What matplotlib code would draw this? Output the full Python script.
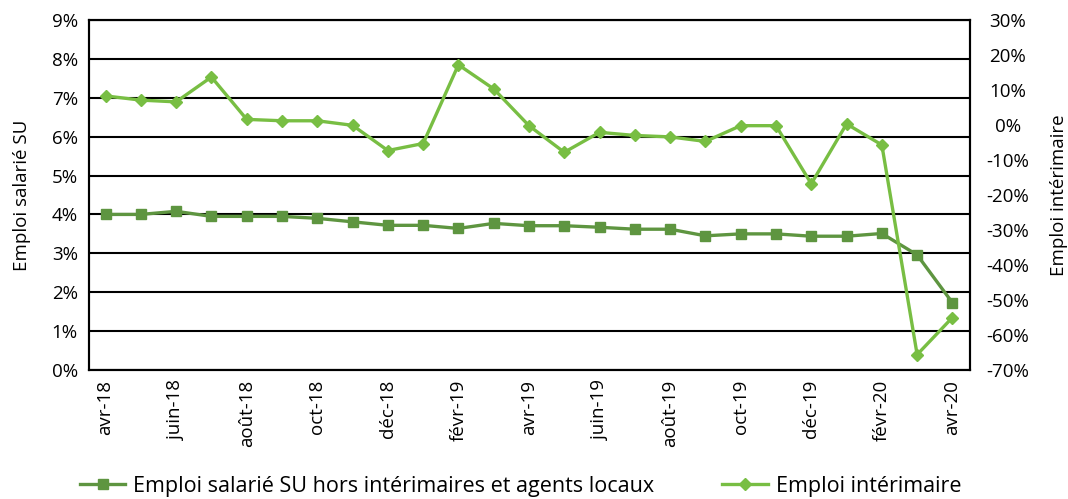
import matplotlib.pyplot as plt
import matplotlib.ticker as mticker

plt.rcParams.update({
    'font.family': ['Open Sans', 'DejaVu Sans'],
    'font.size': 13.5,
})

# Months (avr-18 .. avr-20)
months = ['avr-18', 'mai-18', 'juin-18', 'juil-18', 'août-18', 'sept-18', 'oct-18',
          'nov-18', 'déc-18', 'janv-19', 'févr-19', 'mars-19', 'avr-19', 'mai-19',
          'juin-19', 'juil-19', 'août-19', 'sept-19', 'oct-19', 'nov-19', 'déc-19',
          'janv-20', 'févr-20', 'mars-20', 'avr-20']

# Emploi salarié SU hors intérimaires et agents locaux (left axis, %)
emploi_su = [4.0, 4.0, 4.08, 3.95, 3.95, 3.95, 3.9, 3.81, 3.72, 3.72, 3.64, 3.77,
             3.71, 3.71, 3.67, 3.62, 3.62, 3.45, 3.5, 3.5, 3.44, 3.44, 3.51, 2.96, 1.73]

# Emploi intérimaire (right axis, %)
emploi_int = [8.3, 7.1, 6.6, 13.7, 1.6, 1.2, 1.2, -0.1, -7.3, -5.3, 17.2, 10.3,
              -0.2, -7.8, -2.1, -3.0, -3.4, -4.7, -0.2, -0.2, -16.8, 0.3, -5.7, -65.6, -55.0]

dark_green = '#5E9540'
light_green = '#78BE43'

fig = plt.figure(figsize=(10.68, 4.99), dpi=100)
ax = fig.add_axes([0.0833, 0.2585, 0.825, 0.7015])
ax2 = ax.twinx()

x = list(range(len(months)))

l1, = ax.plot(x, emploi_su, color=dark_green, lw=2.4, marker='s', ms=7,
              label='Emploi salarié SU hors intérimaires et agents locaux')
l2, = ax2.plot(x, emploi_int, color=light_green, lw=2.4, marker='D', ms=6.5,
               label='Emploi intérimaire')

ax.set_ylim(0, 9)
ax.set_yticks(range(0, 10))
ax.yaxis.set_major_formatter(mticker.FuncFormatter(lambda v, p: f'{v:.0f}%'))
ax.yaxis.grid(True, color='black', lw=1.5)
ax.set_axisbelow(True)

ax2.set_ylim(-70, 30)
ax2.set_yticks(range(-70, 31, 10))
ax2.yaxis.set_major_formatter(mticker.FuncFormatter(lambda v, p: f'{v:.0f}%'))

ax.set_xlim(-0.47, 24.5)
ax.set_xticks(x[::2])
ax.set_xticklabels(months[::2], rotation=90)

for a in (ax, ax2):
    a.tick_params(length=0)
    for s in a.spines.values():
        s.set_linewidth(1.5)
        s.set_color('black')
ax.tick_params(axis='y', pad=8)
ax.tick_params(axis='x', pad=7)
ax2.tick_params(axis='y', pad=27)
for lbl in ax2.get_yticklabels():
    lbl.set_horizontalalignment('center')

ax.set_ylabel('Emploi salarié SU', labelpad=15)
ax2.set_ylabel('Emploi intérimaire', labelpad=15)

fig.legend(handles=[l1, l2], loc='lower left', bbox_to_anchor=(0.057, -0.034),
           ncol=2, frameon=False, fontsize=15.5, handlelength=2.1,
           handletextpad=0.37, columnspacing=3.15)

fig.savefig('out.png', dpi=100)
